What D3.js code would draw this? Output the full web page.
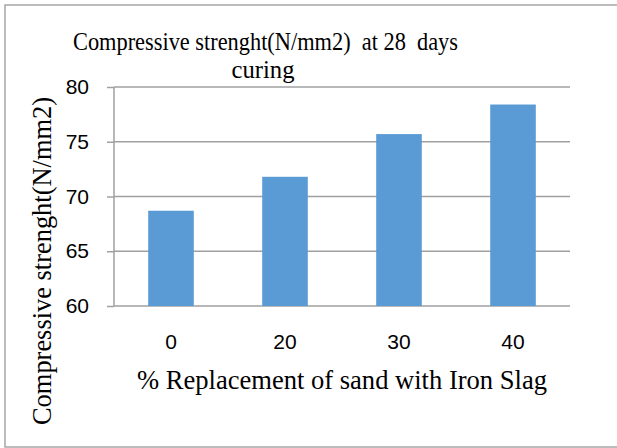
<!DOCTYPE html>
<html>
<head>
<meta charset="utf-8">
<script src="https://cdn.jsdelivr.net/npm/d3@7"></script>
<style>
  body { margin: 0; background: #fff; }
  svg { display: block; }
</style>
</head>
<body>
<script>
// chart data
const categories = ['0', '20', '30', '40']
const strength = [68.7, 71.8, 75.7, 78.4]
const yTicks = [60, 65, 70, 75, 80]

const width = 617
const height = 448

const svg = d3.select('body').append('svg')
  .attr('width', width)
  .attr('height', height)

// outer frame
svg.append('rect')
  .attr('x', 5).attr('y', 5)
  .attr('width', 630).attr('height', 442)
  .attr('fill', 'none')
  .attr('stroke', '#a6a6a6')
  .attr('stroke-width', 1.5)

// plot area (window.top is taken, so prefixed names)
const plotLeft = 114, plotRight = 570, plotTop = 87, plotBottom = 306

const x = d3.scaleBand()
  .domain(categories)
  .range([plotLeft, plotRight])
  .paddingInner(0.6)
  .paddingOuter(0.3)

const y = d3.scaleLinear()
  .domain([60, 80])
  .range([plotBottom, plotTop])

const sans = "'Liberation Sans', Arial, sans-serif"
const serif = "'Liberation Serif', 'DejaVu Serif', 'Times New Roman', serif"

// tick marks + labels on left
const yAxis = svg.append('g')
  .attr('transform', `translate(${plotLeft},0)`)
  .call(d3.axisLeft(y).tickValues(yTicks).tickSize(7).tickPadding(18))
yAxis.attr('font-family', null).attr('font-size', null)
yAxis.select('.domain').remove()
yAxis.selectAll('.tick line').attr('stroke', '#a0a0a0').attr('stroke-width', 1.5)
yAxis.selectAll('.tick text')
  .attr('font-family', sans)
  .attr('font-size', 21)
  .attr('fill', '#000')

// gridlines
svg.append('g')
  .selectAll('line')
  .data(yTicks)
  .enter().append('line')
  .attr('x1', plotLeft).attr('x2', plotRight)
  .attr('y1', d => y(d)).attr('y2', d => y(d))
  .attr('stroke', '#a0a0a0')
  .attr('stroke-width', 1.5)

// vertical axis line
svg.append('line')
  .attr('x1', plotLeft).attr('x2', plotLeft)
  .attr('y1', plotTop).attr('y2', plotBottom)
  .attr('stroke', '#a0a0a0')
  .attr('stroke-width', 1.5)

// bars
svg.append('g')
  .selectAll('rect')
  .data(strength)
  .enter().append('rect')
  .attr('x', (d, i) => x(categories[i]))
  .attr('width', x.bandwidth())
  .attr('y', d => y(d))
  .attr('height', d => plotBottom - y(d))
  .attr('fill', '#5b9bd5')

// x category labels
svg.append('g')
  .selectAll('text')
  .data(categories)
  .enter().append('text')
  .attr('x', d => x(d) + x.bandwidth() / 2)
  .attr('y', 349)
  .attr('text-anchor', 'middle')
  .attr('font-family', sans)
  .attr('font-size', 21)
  .text(d => d)

// titles - the source text is a squeezed Times, so textLength pins the width
function label(txt, size, len) {
  return svg.append('text')
    .attr('text-anchor', 'middle')
    .attr('textLength', len)
    .attr('lengthAdjust', 'spacingAndGlyphs')
    .attr('font-family', serif)
    .attr('font-size', size)
    .style('white-space', 'pre')
    .text(txt)
}

label('Compressive strenght(N/mm2)  at 28  days', 26, 385)
  .attr('x', 265.5).attr('y', 50)
label('curing', 26, 63)
  .attr('x', 263).attr('y', 78)

label('% Replacement of sand with Iron Slag', 27, 410)
  .attr('x', 342).attr('y', 389)

label('Compressive strenght(N/mm2)', 27, 328)
  .attr('transform', 'translate(51,261) rotate(-90)')
</script>
</body>
</html>
